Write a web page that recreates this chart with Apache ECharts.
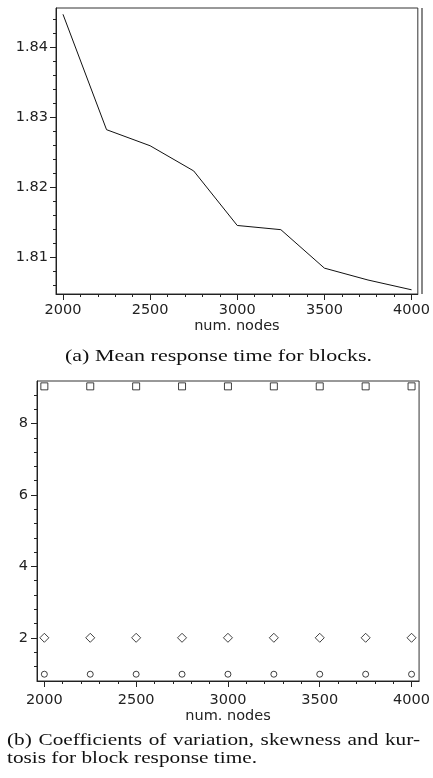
<!DOCTYPE html>
<html>
<head>
<meta charset="utf-8">
<script src="https://cdn.jsdelivr.net/npm/echarts@6/dist/echarts.min.js"></script>
<style>
  html, body { margin: 0; padding: 0; background: #fff; }
  #chart { width: 433px; height: 778px; }
</style>
</head>
<body>
<div id="chart"></div>
<script>
// data
const nodes = [2000, 2250, 2500, 2750, 3000, 3250, 3500, 3750, 4000];
const meanResponse = [1.8447, 1.8282, 1.8259, 1.8223, 1.8145, 1.8139, 1.8084, 1.8067, 1.8053];
const kurtosis = [9.04, 9.04, 9.04, 9.04, 9.04, 9.04, 9.04, 9.04, 9.04];
const skewness = [2.0, 2.0, 2.0, 2.0, 2.0, 2.0, 2.0, 2.0, 2.0];
const coefVar = [0.98, 0.98, 0.98, 0.98, 0.98, 0.98, 0.98, 0.98, 0.98];
const xTicks = [2000, 2500, 3000, 3500, 4000];
const xMinor = [2000, 2100, 2200, 2300, 2400, 2500, 2600, 2700, 2800, 2900, 3000, 3100, 3200, 3300, 3400, 3500, 3600, 3700, 3800, 3900, 4000];
const yTicksA = [1.81, 1.82, 1.83, 1.84];
const yMinorA = [1.806, 1.808, 1.81, 1.812, 1.814, 1.816, 1.818, 1.82, 1.822, 1.824, 1.826, 1.828, 1.83, 1.832, 1.834, 1.836, 1.838, 1.84, 1.842, 1.844];
const yTicksB = [2, 4, 6, 8];
const yMinorB = [1.2, 1.6, 2, 2.4, 2.8, 3.2, 3.6, 4, 4.4, 4.8, 5.2, 5.6, 6, 6.4, 6.8, 7.2, 7.6, 8, 8.4, 8.8];

const captionA = "(a) Mean response time for blocks.";
const captionB1 = ["(b)", "Coefficients", "of", "variation,", "skewness", "and", "kur-"];
const captionB2 = "tosis for block response time.";

var chart = echarts.init(document.getElementById("chart"), null, { renderer: "canvas" });

const sans = "DejaVu Sans";
const serif = "Liberation Serif";
const serifSize = 17.5;
const lineCol = "#222";

// captions are set wider than tall in the picture, so stretch them to the widths seen there
var ctx = document.createElement("canvas").getContext("2d");
ctx.font = serifSize + "px " + serif;
const scaleA = 307 / ctx.measureText(captionA).width;
const scaleB = 250 / ctx.measureText(captionB2).width;
var wordW = captionB1.map((w) => ctx.measureText(w).width * scaleB);
var gap = (413 - wordW.reduce((a, b) => a + b, 0)) / (captionB1.length - 1);

function captionText(text, x, y, scale, align) {
  return {
    type: "text",
    x: x,
    y: y,
    scaleX: scale,
    style: { text: text, fontFamily: serif, fontSize: serifSize, fill: "#111", align: align, verticalAlign: "middle" },
  };
}

var captionGraphics = [];
var cx = 7;
captionB1.forEach((w, i) => {
  captionGraphics.push(captionText(w, cx, 740, scaleB, "left"));
  cx += wordW[i] + gap;
});

function xAxisPair(gridIndex, max, margin, nameGap) {
  return [
    {
      type: "value",
      gridIndex: gridIndex,
      min: 1960,
      max: max,
      name: "num. nodes",
      nameLocation: "middle",
      nameGap: nameGap,
      nameTextStyle: { fontFamily: sans, fontSize: 14.5, color: "#222" },
      axisLine: { show: true, lineStyle: { color: lineCol, width: 1 } },
      axisTick: { show: true, customValues: xTicks, length: 6, lineStyle: { color: lineCol } },
      axisLabel: {
        show: true,
        customValues: xTicks,
        fontFamily: sans,
        fontSize: 14.5,
        color: "#222",
        margin: margin,
        formatter: (v) => String(v),
      },
      splitLine: { show: false },
    },
    {
      type: "value",
      gridIndex: gridIndex,
      min: 1960,
      max: max,
      position: "bottom",
      axisLine: { show: false },
      axisTick: { show: true, customValues: xMinor, length: 3, lineStyle: { color: lineCol } },
      axisLabel: { show: false },
      splitLine: { show: false },
    },
  ];
}

function yAxisPair(gridIndex, min, max, major, minor, decimals, margin) {
  return [
    {
      type: "value",
      gridIndex: gridIndex,
      min: min,
      max: max,
      axisLine: { show: true, lineStyle: { color: lineCol, width: 1 } },
      axisTick: { show: true, customValues: major, length: 6, lineStyle: { color: lineCol } },
      axisLabel: {
        show: true,
        customValues: major,
        fontFamily: sans,
        fontSize: 14.5,
        color: "#222",
        margin: margin,
        formatter: (v) => v.toFixed(decimals),
      },
      splitLine: { show: false },
    },
    {
      type: "value",
      gridIndex: gridIndex,
      min: min,
      max: max,
      position: "left",
      axisLine: { show: false },
      axisTick: { show: true, customValues: minor, length: 3, lineStyle: { color: lineCol } },
      axisLabel: { show: false },
      splitLine: { show: false },
    },
  ];
}

var option = {
  backgroundColor: "#fff",
  animation: false,
  textStyle: { fontFamily: sans },
  grid: [
    { left: 56, top: 8, width: 366, height: 286, show: true, borderColor: "#333", borderWidth: 1 },
    { left: 37, top: 381, width: 385, height: 300, show: true, borderColor: "#333", borderWidth: 1 },
  ],
  xAxis: [...xAxisPair(0, 4036, 9, 25), ...xAxisPair(1, 4041, 12, 28)],
  yAxis: [
    ...yAxisPair(0, 1.8047, 1.8456, yTicksA, yMinorA, 2, 8),
    ...yAxisPair(1, 0.79, 9.19, yTicksB, yMinorB, 0, 9),
  ],
  graphic: [
    // thicker grey right border of the upper plot
    { type: "line", shape: { x1: 422, y1: 8, x2: 422, y2: 294 }, style: { stroke: "#888", lineWidth: 2 } },
    captionText(captionA, 218.5, 356, scaleA, "center"),
    ...captionGraphics,
    captionText(captionB2, 7, 758, scaleB, "left"),
  ],
  series: [
    {
      type: "line",
      xAxisIndex: 0,
      yAxisIndex: 0,
      data: nodes.map((n, i) => [n, meanResponse[i]]),
      showSymbol: false,
      lineStyle: { color: "#111", width: 1 },
    },
    {
      type: "scatter",
      xAxisIndex: 2,
      yAxisIndex: 2,
      data: nodes.map((n, i) => [n, kurtosis[i]]),
      symbol: "rect",
      symbolSize: 7,
      itemStyle: { color: "#fff", borderColor: "#111", borderWidth: 1 },
    },
    {
      type: "scatter",
      xAxisIndex: 2,
      yAxisIndex: 2,
      data: nodes.map((n, i) => [n, skewness[i]]),
      symbol: "diamond",
      symbolSize: [9, 9],
      itemStyle: { color: "#fff", borderColor: "#111", borderWidth: 1 },
    },
    {
      type: "scatter",
      xAxisIndex: 2,
      yAxisIndex: 2,
      data: nodes.map((n, i) => [n, coefVar[i]]),
      symbol: "circle",
      symbolSize: 6,
      itemStyle: { color: "#fff", borderColor: "#111", borderWidth: 1 },
    },
  ],
};
option && chart.setOption(option);
</script>
</body>
</html>
